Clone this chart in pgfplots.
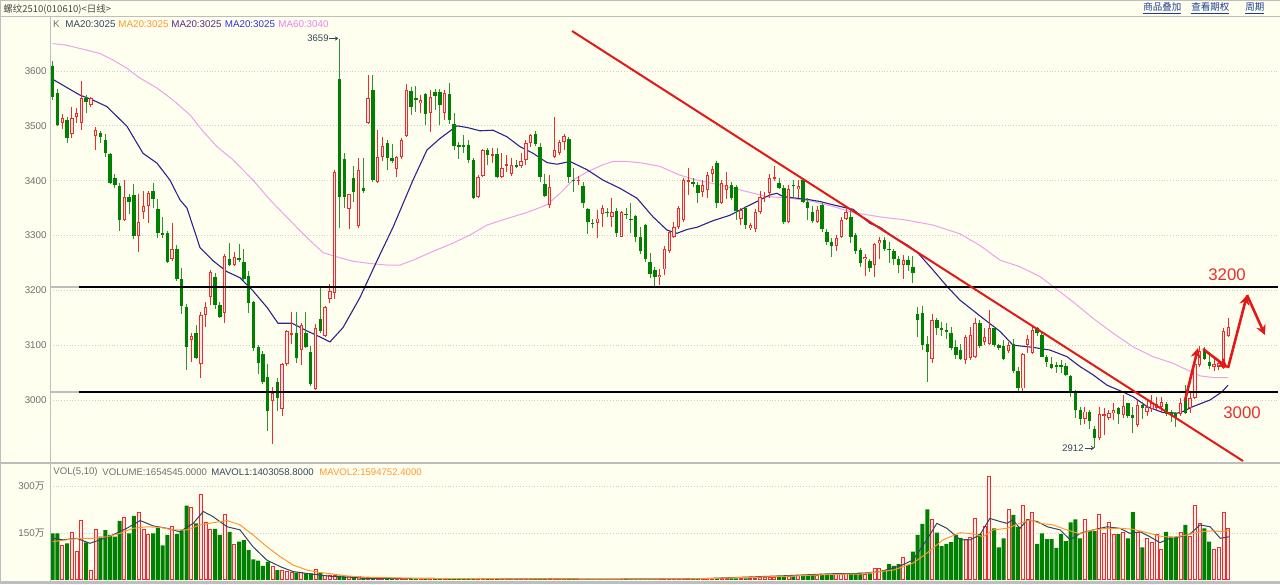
\documentclass[border=0pt]{standalone}
\usepackage{pgfplots}
\pgfplotsset{compat=1.18}
\usepackage{pgfplotstable}
\usepackage{fontspec}
\setmainfont{Liberation Sans}
\newfontfamily\cjk{Noto Sans CJK SC}
\usetikzlibrary{arrows.meta}
\definecolor{bg}{RGB}{255,255,240}
\definecolor{upred}{RGB}{235,45,45}
\definecolor{upfill}{RGB}{255,232,232}
\definecolor{dngreen}{RGB}{0,128,0}
\definecolor{dnwick}{RGB}{50,145,50}
\definecolor{ma20}{RGB}{45,35,140}
\definecolor{ma60}{RGB}{238,160,238}
\definecolor{slate}{RGB}{50,70,95}
\definecolor{orng}{RGB}{255,150,50}
\definecolor{purp}{RGB}{90,40,130}
\definecolor{blu}{RGB}{50,50,210}
\definecolor{pinkt}{RGB}{230,130,230}
\definecolor{tickc}{RGB}{110,110,110}
\definecolor{linkb}{RGB}{30,60,150}
\definecolor{framec}{RGB}{190,190,190}
\definecolor{trend}{RGB}{225,25,25}
\definecolor{gridc}{RGB}{205,205,205}

\pgfplotstableread{
i o h l c v
2 3506 3521 3494 3515 111
4 3486 3534 3477 3514 154
5 3517 3532 3506 3523 93
6 3506 3582 3492 3550 190
8 3538 3553 3534 3551 32
9 3481 3497 3456 3492 163
15 3329 3401 3326 3370 200
18 3299 3375 3270 3325 217
19 3343 3381 3331 3354 161
20 3354 3381 3322 3377 145
25 3258 3323 3254 3275 171
29 3109 3123 3069 3117 233
31 3065 3160 3041 3155 275
32 3155 3178 3133 3170 184
33 3187 3238 3173 3234 163
36 3159 3267 3140 3263 211
38 3247 3270 3244 3261 115
46 2998 3024 2919 3012 43
48 2983 3068 2970 3066 30
49 3066 3127 3062 3125 27
50 3119 3160 3103 3122 24
52 3091 3140 3064 3137 24
55 3020 3138 3018 3132 34
57 3117 3172 3115 3170 16
58 3185 3211 3177 3199 16
59 3195 3420 3185 3416 16
62 3348 3376 3311 3375 11
64 3317 3441 3314 3419 10
66 3505 3593 3503 3550 8
68 3398 3492 3396 3443 7
69 3443 3480 3436 3463 6
72 3422 3445 3406 3443 5
73 3444 3477 3440 3475 5
74 3481 3577 3479 3565 5
77 3541 3556 3523 3547 5
79 3524 3565 3489 3553 4
82 3524 3565 3511 3559 4
89 3371 3410 3368 3407 4
90 3409 3457 3407 3456 4
92 3446 3460 3433 3449 3
94 3406 3450 3404 3423 3
95 3427 3447 3416 3430 3
96 3413 3441 3409 3429 3
98 3426 3450 3423 3435 3
99 3438 3474 3429 3468 3
100 3468 3485 3462 3483 3
104 3356 3410 3350 3389 4
105 3443 3516 3441 3456 3
106 3450 3474 3447 3471 3
107 3471 3486 3456 3482 3
110 3400 3409 3392 3402 3
114 3323 3347 3295 3331 3
115 3339 3356 3316 3350 3
117 3333 3368 3315 3343 3
119 3298 3344 3297 3342 3
127 3224 3238 3210 3228 2
128 3238 3280 3228 3275 2
129 3271 3310 3268 3307 2
130 3298 3325 3295 3315 3
131 3315 3353 3311 3350 3
132 3328 3404 3325 3401 3
133 3398 3423 3374 3401 5
136 3380 3401 3371 3392 3
137 3383 3416 3368 3410 3
138 3413 3426 3398 3422 3
140 3360 3401 3357 3395 4
141 3383 3415 3366 3392 4
144 3331 3350 3319 3347 5
146 3313 3322 3310 3319 6
147 3311 3348 3307 3343 6
148 3343 3382 3340 3371 7
149 3368 3380 3362 3371 7
150 3377 3412 3368 3404 8
151 3404 3427 3400 3406 8
154 3325 3392 3322 3384 11
156 3384 3401 3368 3390 13
160 3325 3354 3323 3347 16
164 3280 3301 3272 3295 19
165 3297 3334 3295 3329 20
166 3331 3348 3328 3343 20
170 3257 3266 3226 3261 19
172 3246 3287 3225 3285 37
173 3286 3297 3258 3292 37
178 3246 3265 3220 3256 73
184 3074 3157 3067 3146 195
191 3073 3118 3066 3115 129
192 3076 3134 3073 3118 137
193 3079 3149 3076 3140 198
195 3105 3131 3100 3114 171
196 3103 3164 3100 3131 334
200 3090 3106 3086 3100 227
203 3021 3086 3015 3084 239
204 3100 3118 3085 3112 195
205 3085 3134 3084 3128 216
216 2965 2988 2957 2979 195
219 2930 2988 2927 2974 209
220 2971 2985 2936 2974 150
221 2967 2981 2963 2976 186
222 2976 2994 2963 2982 145
224 2973 3009 2967 2989 154
227 2954 3000 2951 2991 154
229 2979 2999 2971 2988 134
230 2983 3009 2979 2994 122
231 2985 3006 2982 2993 145
232 2988 3005 2979 2997 98
236 2974 3003 2970 2994 152
238 2985 3013 2976 3003 139
239 3003 3073 3001 3066 239
240 3064 3098 3060 3090 180
243 3061 3076 3052 3066 98
244 3060 3073 3055 3067 105
245 3058 3131 3056 3125 216
246 3116 3149 3114 3134 166
}\up

\pgfplotstableread{
i o h l c v
0 3609 3618 3548 3553 150
1 3559 3567 3500 3502 150
3 3511 3516 3469 3477 118
7 3550 3557 3524 3544 121
10 3487 3490 3468 3480 139
11 3474 3486 3443 3450 160
12 3449 3450 3394 3396 145
13 3404 3412 3386 3392 139
14 3390 3395 3309 3328 190
16 3370 3375 3339 3362 150
17 3374 3394 3293 3299 206
21 3381 3395 3350 3366 150
22 3348 3366 3295 3305 168
23 3304 3334 3295 3302 111
24 3305 3308 3250 3252 145
26 3276 3282 3217 3220 148
27 3220 3240 3157 3171 159
28 3170 3175 3054 3097 239
30 3122 3137 3074 3077 182
34 3224 3232 3166 3173 164
35 3173 3178 3150 3152 145
37 3257 3287 3245 3247 155
39 3259 3285 3251 3257 123
40 3252 3275 3217 3220 128
41 3227 3236 3158 3176 96
42 3178 3181 3090 3094 66
43 3097 3101 3047 3068 62
44 3084 3089 3029 3032 45
45 3042 3066 2944 2980 59
47 3032 3041 2980 3004 32
51 3122 3160 3068 3077 24
53 3123 3161 3094 3096 21
54 3088 3098 3026 3029 21
56 3147 3205 3123 3126 24
60 3585 3659 3314 3371 14
61 3439 3450 3351 3371 12
63 3405 3426 3361 3380 12
65 3387 3441 3378 3381 8
67 3565 3593 3398 3401 7
70 3468 3474 3420 3441 6
71 3441 3467 3432 3435 6
75 3564 3571 3520 3535 5
76 3551 3573 3526 3548 5
78 3558 3559 3502 3522 4
80 3562 3568 3529 3554 4
81 3562 3568 3502 3538 4
83 3558 3579 3503 3511 4
84 3503 3524 3456 3463 5
85 3465 3471 3439 3462 4
86 3465 3483 3450 3462 4
87 3465 3474 3432 3437 4
88 3437 3441 3366 3368 5
91 3456 3460 3429 3447 4
93 3449 3460 3404 3406 4
97 3428 3438 3423 3426 3
101 3485 3491 3463 3467 3
102 3461 3468 3398 3406 4
103 3394 3413 3371 3372 4
108 3476 3480 3396 3406 4
109 3402 3423 3380 3400 3
111 3390 3398 3350 3359 3
112 3348 3350 3303 3325 4
113 3323 3331 3313 3321 3
116 3343 3350 3334 3341 3
118 3345 3350 3298 3304 3
120 3340 3350 3331 3338 3
121 3330 3359 3305 3329 2
122 3336 3338 3289 3298 2
123 3298 3316 3267 3272 2
124 3319 3321 3252 3257 2
125 3252 3268 3222 3230 2
126 3237 3243 3206 3224 2
134 3397 3404 3389 3395 3
135 3392 3398 3359 3378 3
139 3432 3435 3350 3359 4
142 3392 3398 3365 3368 5
143 3389 3392 3328 3344 5
145 3350 3354 3311 3319 5
152 3396 3404 3384 3386 9
153 3386 3392 3321 3325 10
155 3393 3402 3368 3390 12
157 3401 3404 3359 3362 14
158 3362 3368 3328 3350 15
159 3342 3353 3323 3327 16
161 3356 3359 3307 3311 17
162 3307 3311 3283 3289 18
163 3289 3295 3260 3280 18
167 3333 3350 3286 3297 21
168 3301 3304 3266 3271 22
169 3273 3277 3243 3250 24
171 3254 3258 3234 3240 21
174 3291 3297 3272 3275 32
175 3276 3289 3249 3274 51
176 3271 3275 3246 3257 45
177 3258 3263 3232 3246 51
179 3255 3263 3236 3246 48
180 3243 3263 3214 3231 91
181 3157 3170 3115 3146 145
182 3158 3171 3092 3100 180
183 3103 3116 3033 3088 227
185 3146 3149 3119 3131 152
186 3131 3143 3116 3128 109
187 3128 3140 3112 3125 116
188 3123 3134 3091 3094 122
189 3096 3109 3074 3082 145
190 3091 3103 3073 3074 135
194 3140 3146 3095 3098 148
197 3131 3134 3096 3100 166
198 3100 3103 3092 3094 105
199 3098 3109 3073 3074 134
201 3103 3112 3049 3052 209
202 3052 3061 3015 3021 171
206 3131 3134 3117 3122 116
207 3119 3123 3078 3079 150
208 3079 3082 3061 3070 131
209 3066 3079 3056 3058 131
210 3063 3070 3049 3061 103
211 3063 3073 3049 3061 148
212 3062 3067 3044 3046 125
213 3043 3046 3006 3015 185
214 3015 3018 2967 2982 195
215 2982 2988 2954 2965 134
217 2979 2982 2948 2961 157
218 2948 2952 2912 2930 157
223 2985 2988 2957 2974 147
225 2994 2995 2967 2970 134
226 2973 2988 2939 2968 218
228 2991 2997 2965 2985 105
233 2993 2997 2971 2974 155
234 2979 2982 2960 2973 139
235 2976 2979 2951 2967 139
237 3001 3027 2974 2976 177
241 3091 3096 3073 3074 166
242 3070 3082 3056 3062 123
}\dn

\begin{document}
\begin{tikzpicture}
\fill[bg] (0,0) rectangle (640pt,292pt);
\useasboundingbox (0,0) rectangle (640pt,292pt);

% ---------------- price panel ----------------
\begin{axis}[
  at={(25pt,60.5pt)}, anchor=south west, scale only axis,
  width=614pt, height=222.5pt,
  xmin=-0.565, xmax=256.39, ymin=2885.1, ymax=3696.7,
  axis line style={draw=none},
  xtick=\empty,
  ytick={3000,3100,3200,3300,3400,3500,3600},
  yticklabels={3000,3100,3200,3300,3400,3500,3600},
  major tick length=0pt,
  yticklabel style={font=\fontsize{4.9}{5.9}\selectfont, text=tickc, inner sep=0pt, xshift=-1.5pt},
  ymajorgrids, grid style={densely dotted, draw=gridc, line width=0.4pt},
  candle/.style={draw=none, mark=none, forget plot, error bars/y dir=both, error bars/y explicit, error bars/error mark=none},
]
% MA60
\addplot[ma60, line width=0.5pt, mark=none] coordinates {
(0,3650)(2.93,3647)(7.11,3638)(9.90,3632)(12.62,3620)(15.55,3605)(18.27,3587)(21.82,3569)(25.17,3547)(28.73,3520)(31.45,3490)(34.38,3462)(37.73,3438)(41.91,3401)(45.47,3365)(49.03,3333)(53.21,3296)(56.56,3269)(58.65,3263)(62.84,3253)(66.40,3249)(69.95,3246)(72.67,3246)(75.39,3255)(79.58,3271)(83.76,3286)(87.32,3301)(90.87,3319)(95.06,3331)(99.25,3342)(103.43,3356)(106.15,3377)(108.87,3401)(111.80,3416)(115.15,3429)(117.24,3435)(120.17,3435)(123.52,3432)(127.08,3426)(131.26,3410)(134.82,3401)(139.63,3392)(145.28,3380)(149.47,3371)(154.28,3368)(159.09,3362)(163.28,3353)(167.46,3342)(173.11,3334)(178.76,3328)(184.21,3319)(189.86,3303)(194.0,3282)(198.23,3255)(202.41,3243)(206.60,3225)(209.32,3207)(213.50,3179)(217.68,3149)(221.87,3122)(226.05,3097)(230.24,3079)(234.42,3067)(237.35,3055)(240.07,3044)(242.79,3041)(245.94,3041)};
% MA20
\addplot[ma20, line width=0.55pt, mark=none] coordinates {
(0,3585)(2.93,3570)(5.71,3556)(8.43,3547)(11.36,3535)(15.55,3499)(18.89,3450)(21.82,3432)(24.54,3401)(26.63,3365)(28.10,3350)(30.82,3278)(33.54,3254)(36.47,3234)(39.19,3223)(41.91,3199)(44.84,3169)(47.14,3140)(50.07,3140)(53.21,3126)(55.93,3115)(58.02,3106)(60.74,3132)(64.30,3187)(67.86,3254)(71.21,3315)(75.39,3401)(78.32,3456)(81.04,3477)(84.60,3500)(86.69,3497)(89.41,3491)(92.13,3492)(95.06,3480)(97.78,3462)(100.50,3450)(103.43,3433)(105.52,3430)(108.24,3435)(111.80,3420)(115.15,3401)(118.71,3386)(122.26,3368)(125.61,3334)(128.54,3310)(130.63,3304)(132.73,3311)(134.82,3315)(138.17,3327)(141.72,3337)(145.28,3353)(148.00,3365)(150.10,3374)(151.56,3377)(152.82,3371)(155.75,3368)(157.84,3366)(160.56,3362)(163.28,3356)(166.21,3350)(167.46,3348)(168.93,3337)(171.02,3322)(173.11,3315)(175.83,3298)(178.76,3283)(180.86,3270)(184.21,3237)(187.14,3207)(189.86,3182)(194.67,3149)(198.23,3125)(200.95,3100)(205.13,3096)(208.69,3091)(212.24,3079)(214.96,3061)(217.68,3046)(220.61,3027)(223.33,3017)(226.05,3006)(228.98,2988)(232.33,2977)(235.26,2976)(236.52,2979)(238.61,2988)(242.17,3000)(244.68,3015)(245.94,3027)};
% wicks
\addplot[candle, error bars/error bar style={draw=dnwick, line width=0.5pt, solid}]
  table[x=i, y expr={(\thisrow{h}+\thisrow{l})/2}, y error expr={(\thisrow{h}-\thisrow{l})/2}] {\dn};
\addplot[candle, error bars/error bar style={draw=upred, line width=0.5pt, solid}]
  table[x=i, y expr={(\thisrow{h}+\thisrow{l})/2}, y error expr={(\thisrow{h}-\thisrow{l})/2}] {\up};
% bodies
\addplot[candle, error bars/error bar style={draw=dngreen, line width=1.7pt, solid}]
  table[x=i, y expr={(\thisrow{o}+\thisrow{c})/2}, y error expr={max((\thisrow{o}-\thisrow{c})/2,0.9)}] {\dn};
\addplot[candle, error bars/error bar style={draw=upred, line width=1.7pt, solid}]
  table[x=i, y expr={(\thisrow{o}+\thisrow{c})/2}, y error expr={max((\thisrow{c}-\thisrow{o})/2,0.9)}] {\up};
\addplot[candle, error bars/error bar style={draw=upfill, line width=0.7pt, solid}]
  table[x=i, y expr={(\thisrow{o}+\thisrow{c})/2}, y error expr={max((\thisrow{c}-\thisrow{o})/2-1.8,0)}] {\up};
% horizontal support/resistance lines
\addplot[framec, line width=1pt, mark=none] coordinates {(-0.565,3206.4)(5.5,3206.4)};
\addplot[black, line width=1pt, mark=none] coordinates {(5.5,3206.4)(256.39,3206.4)};
\addplot[framec, line width=1pt, mark=none] coordinates {(-0.565,3015.3)(5.5,3015.3)};
\addplot[black, line width=1pt, mark=none] coordinates {(5.5,3015.3)(256.39,3015.3)};
% trend line
\addplot[trend, line width=1pt, mark=none] coordinates {(108.66,3673)(249.07,2888.7)};
% arrows
\addplot[trend, line width=1.3pt, mark=none, -{Stealth[length=5pt,width=5pt]}] coordinates {(236.9,2998)(239.65,3094.8)};
\addplot[trend, line width=1.3pt, mark=none, -{Stealth[length=5pt,width=5pt]}] coordinates {(240.7,3093)(245.93,3058.4)};
\addplot[trend, line width=1.3pt, mark=none, -{Stealth[length=5pt,width=5pt]}] coordinates {(245.93,3058.4)(249.9,3191.5)};
\addplot[trend, line width=1.3pt, mark=none, -{Stealth[length=5pt,width=5pt]}] coordinates {(249.9,3191.5)(253.67,3118.5)};
\end{axis}

% ---------------- volume panel ----------------
\begin{axis}[
  at={(25pt,2pt)}, anchor=south west, scale only axis,
  width=614pt, height=58pt,
  xmin=-0.565, xmax=256.39, ymin=0, ymax=372.7,
  axis line style={draw=none},
  xtick=\empty,
  ytick={150,300},
  yticklabels={150{\cjk 万},300{\cjk 万}},
  major tick length=0pt,
  yticklabel style={font=\fontsize{4.9}{5.9}\selectfont, text=tickc, inner sep=0pt, xshift=-2.5pt},
  ymajorgrids, grid style={densely dotted, draw=gridc, line width=0.4pt},
]
\addplot[ybar, bar width=2pt, bar shift=0pt, fill=dngreen, draw=none] table[x=i, y=v] {\dn};
\addplot[ybar, bar width=1.5pt, bar shift=0pt, fill=upfill, draw=upred, line width=0.5pt] table[x=i, y=v] {\up};
\addplot[slate, line width=0.5pt, mark=none] coordinates {
(0,134)(2.2,129)(5.0,134)(7.8,118)(9.9,129)(12.6,145)(15.5,166)(18.3,191)(21.0,174)(23.9,166)(26.6,155)(29.4,182)(31.5,220)(33.5,204)(36.5,171)(39.2,161)(41.9,107)(44.8,64)(47.6,43)(50.3,27)(53.2,21)(55.9,16)(58.6,11)(62.2,9)(65.8,5)(76.9,5)(93.6,4)(114.5,3)(135.4,4)(153.6,14)(162.7,20)(168.9,21)(173.1,27)(177.3,45)(180.0,64)(182.9,129)(185.0,182)(187.1,166)(189.9,129)(192.0,129)(194.0,145)(196.1,198)(198.2,188)(199.7,182)(200.9,193)(202.4,166)(203.9,193)(206.0,188)(208.1,171)(210.8,161)(212.9,129)(215.0,150)(217.7,161)(220.6,171)(223.3,166)(225.4,150)(227.5,155)(229.6,139)(231.7,120)(233.8,134)(235.9,139)(238.0,148)(240.1,177)(242.2,171)(244.3,134)(246.2,139)};
\addplot[orng, line width=0.5pt, mark=none] coordinates {
(0,123)(2.9,129)(5.7,134)(8.4,134)(11.4,139)(14.1,150)(16.8,166)(19.7,171)(22.5,169)(25.2,161)(28.1,161)(30.8,177)(33.5,184)(36.5,191)(39.2,177)(41.9,145)(44.8,107)(47.6,75)(50.3,48)(53.2,32)(55.9,24)(58.6,19)(61.6,13)(65.8,9)(76.9,5)(93.6,4)(114.5,3)(135.4,4)(153.6,12)(162.7,18)(168.9,19)(175.9,32)(180.0,54)(182.9,86)(186.3,129)(189.9,152)(192.6,148)(194.7,139)(196.8,161)(199.7,166)(202.4,182)(204.5,193)(206.6,182)(209.3,177)(212.2,161)(215.0,148)(217.7,161)(220.6,166)(223.3,166)(226.1,163)(229.0,152)(231.7,141)(234.4,137)(237.4,145)(240.1,155)(242.8,158)(244.9,155)(246.2,161)};
\end{axis}

% ---------------- frame and texts (pixel coordinates) ----------------
\begin{scope}[x=0.5pt, y=-0.5pt, yshift=292pt]
\draw[framec, line width=0.5pt] (0,0.5) -- (1280,0.5);
\draw[framec, line width=0.6pt] (0,16.5) -- (1280,16.5);
\draw[framec, line width=0.5pt] (0.5,0) -- (0.5,584);
\draw[framec, line width=0.5pt] (50,17) -- (50,581);
\draw[framec, line width=1pt] (0,463.5) -- (1280,463.5);
\draw[framec, line width=1.5pt] (0,582.5) -- (1280,582.5);

\node[anchor=west, inner sep=0pt, font=\cjk\fontsize{4.75}{5.5}\selectfont, text={rgb,255:red,70;green,70;blue,70}] at (3,9) {螺纹2510(010610)<日线>};
\node[anchor=west, inner sep=0pt, font=\cjk\fontsize{4.75}{5.5}\selectfont, text=linkb] at (1143,8.5) {\underline{商品叠加}};
\node[anchor=west, inner sep=0pt, font=\cjk\fontsize{4.75}{5.5}\selectfont, text=linkb] at (1191,8.5) {\underline{查看期权}};
\node[anchor=west, inner sep=0pt, font=\cjk\fontsize{4.75}{5.5}\selectfont, text=linkb] at (1245,8.5) {\underline{周期}};

\node[anchor=west, inner sep=0pt, font=\fontsize{4.9}{5.9}\selectfont, text=tickc] at (52.7,24) {K};
\node[anchor=west, inner sep=0pt, font=\fontsize{4.9}{5.9}\selectfont, text=slate] at (65,24) {MA20:3025};
\node[anchor=west, inner sep=0pt, font=\fontsize{4.9}{5.9}\selectfont, text=orng] at (118,24) {MA20:3025};
\node[anchor=west, inner sep=0pt, font=\fontsize{4.9}{5.9}\selectfont, text=purp] at (171,24) {MA20:3025};
\node[anchor=west, inner sep=0pt, font=\fontsize{4.9}{5.9}\selectfont, text=blu] at (224.5,24) {MA20:3025};
\node[anchor=west, inner sep=0pt, font=\fontsize{4.9}{5.9}\selectfont, text=pinkt] at (278,24) {MA60:3040};

\node[anchor=west, inner sep=0pt, font=\fontsize{4.8}{5.8}\selectfont, text=tickc] at (53,471.7) {VOL(5,10)};
\node[anchor=west, inner sep=0pt, font=\fontsize{4.8}{5.8}\selectfont, text=tickc] at (102,471.7) {VOLUME:1654545.0000};
\node[anchor=west, inner sep=0pt, font=\fontsize{4.8}{5.8}\selectfont, text=slate] at (211,471.7) {MAVOL1:1403058.8000};
\node[anchor=west, inner sep=0pt, font=\fontsize{4.8}{5.8}\selectfont, text=orng] at (319,471.7) {MAVOL2:1594752.4000};

\node[anchor=west, inner sep=0pt, font=\fontsize{4.75}{5.5}\selectfont, text=slate] at (307,38.5) {3659};
\draw[slate, line width=0.4pt, -{To[length=1.5pt,width=2pt]}] (329,38.5) -- (338,38.5);
\node[anchor=west, inner sep=0pt, font=\fontsize{4.75}{5.5}\selectfont, text=slate] at (1062,448) {2912};
\draw[slate, line width=0.4pt, -{To[length=1.5pt,width=2pt]}] (1085,448) -- (1094,448);

\node[anchor=center, inner sep=0pt, font=\fontsize{8.4}{9}\selectfont, text=upred] at (1227,275) {3200};
\node[anchor=center, inner sep=0pt, font=\fontsize{8.4}{9}\selectfont, text=upred] at (1242,412.5) {3000};
\end{scope}
\end{tikzpicture}
\end{document}
